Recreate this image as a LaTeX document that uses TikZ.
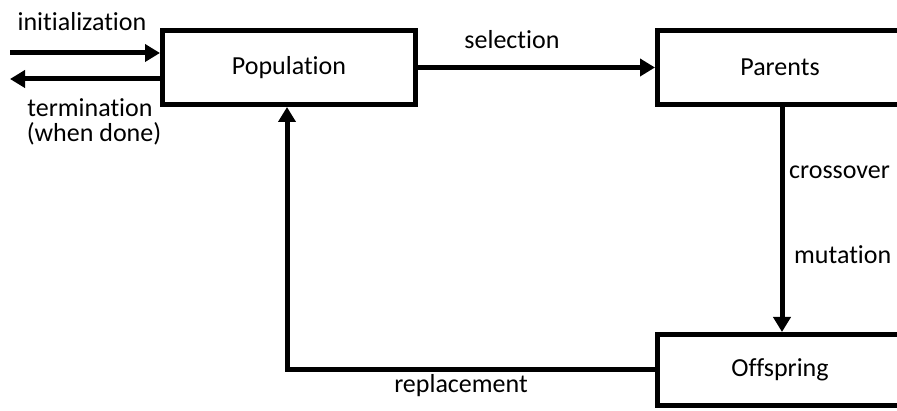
\documentclass[tikz,border=0pt]{standalone}
\usepackage{fontspec}
\setmainfont{Carlito}[Ligatures=NoCommon]
\usetikzlibrary{arrows.meta}
\begin{document}
\begin{tikzpicture}[x=1pt,y=-1pt,
  font=\fontsize{26}{27}\selectfont,
  blockbox/.style={draw, line width=5pt, rectangle, inner sep=0pt, fill=white},
  conn/.style={line width=5pt, -{Triangle[length=15pt,width=17pt]}},
  lbl/.style={inner sep=0pt, anchor=center}]
\clip (0,0) rectangle (897,411);
\fill[white] (0,0) rectangle (897,411);
\node[blockbox, minimum width=253pt, minimum height=74pt] (pop) at (289,67.5) {Population};
\node[blockbox, minimum width=249pt, minimum height=74pt] (par) at (782,67.5) {};
\node at (780,67.5) {Parents};
\node[blockbox, minimum width=249pt, minimum height=71pt] (off) at (782,370) {};
\node at (780,370) {Offspring};
\coordinate (inS) at (10,53);
\coordinate (outE) at (10,79);
\coordinate (corner) at (287,370);
\draw[conn] (inS) -- (inS -| pop.west);
\draw[conn] (outE -| pop.west) -- (outE);
\draw[conn] (pop.east) -- (par.west);
\draw[conn] (par.south) -- (off.north);
\draw[conn] (off.west) -- (corner) -- (corner |- pop.south);
\node[lbl] (tinit) at (82,22) {initialization};
\node[lbl] (tterm1) at (90,108) {termination};
\node[lbl] (tterm2) at (94,134) {(when done)};
\node[lbl] (tsel) at (512,40) {selection};
\node[lbl, anchor=west] (tcross) at (789,172) {crossover};
\node[lbl, anchor=west] (tmut) at (794,255) {mutation};
\node[lbl] (trep) at (461,386) {replacement};
\end{tikzpicture}
\end{document}
